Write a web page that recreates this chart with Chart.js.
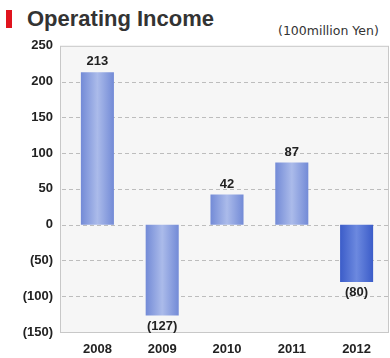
<!DOCTYPE html>
<html>
<head>
<meta charset="utf-8">
<script src="https://cdn.jsdelivr.net/npm/chart.js@4.4.0/dist/chart.umd.min.js"></script>
<style>
    html, body { margin: 0; padding: 0; background: #fff; }
    #wrap { position: relative; width: 390px; height: 358px; overflow: hidden; font-family: Arial, "Liberation Sans", sans-serif; }
    #mark { position: absolute; left: 6px; top: 10px; width: 6px; height: 18px; background: #e0141e; }
    #title { position: absolute; left: 27px; top: 6px; font-size: 22px; font-weight: bold; color: #333; white-space: nowrap; }
    #unit { position: absolute; left: 278px; top: 23px; font-size: 12.5px; font-family: "DejaVu Sans", sans-serif; color: #333; white-space: nowrap; }
    #chartBox { position: absolute; left: 0; top: 26px; width: 390px; height: 332px; }
</style>
</head>
<body>
<div id="wrap">
    <div id="mark"></div>
    <div id="title">Operating Income</div>
    <div id="unit">(100million Yen)</div>
    <div id="chartBox"><canvas id="incomeChart"></canvas></div>
</div>
<script>
// Ingresos operativos por año (100 millones de yenes)
const years = ['2008', '2009', '2010', '2011', '2012'];
const income = [213, -127, 42, 87, -80];
const yTicks = [250, 200, 150, 100, 50, 0, -50, -100, -150];
const gridValues = [200, 150, 100, 50, 0, -50, -100];

const FONT = 'Arial, "Liberation Sans", sans-serif';

function fmt(v) {
    return v < 0 ? '(' + Math.abs(v) + ')' : String(v);
}

// Fondo, líneas de guía discontinuas y marco del área
const frame = {
    id: 'frame',
    beforeDatasetsDraw(chart) {
        const { ctx, chartArea: a, scales } = chart;
        const left = a.left - 5;
        ctx.save();
        ctx.fillStyle = '#f6f6f6';
        ctx.fillRect(left, a.top, a.right - left, a.bottom - a.top);
        ctx.strokeStyle = '#bdbdbd';
        ctx.lineWidth = 1;
        ctx.setLineDash([4, 3]);
        gridValues.forEach(v => {
            const y = Math.round(scales.y.getPixelForValue(v)) + 0.5;
            ctx.beginPath();
            ctx.moveTo(left + 2, y);
            ctx.lineTo(a.right, y);
            ctx.stroke();
        });
        ctx.restore();
    },
    afterDatasetsDraw(chart) {
        const { ctx, chartArea: a } = chart;
        ctx.save();
        ctx.strokeStyle = '#c8c8c8';
        ctx.lineWidth = 1;
        ctx.strokeRect(a.left - 4.5, a.top + 0.5, a.right - a.left + 4, a.bottom - a.top);
        ctx.restore();
    }
};

// Etiquetas de valor sobre / debajo de cada barra
const valueLabels = {
    id: 'valueLabels',
    afterDatasetsDraw(chart) {
        const { ctx } = chart;
        const meta = chart.getDatasetMeta(0);
        ctx.save();
        ctx.font = 'bold 13px ' + FONT;
        ctx.fillStyle = '#222';
        ctx.textAlign = 'center';
        meta.data.forEach((bar, i) => {
            const v = income[i];
            if (v >= 0) {
                ctx.textBaseline = 'bottom';
                ctx.fillText(fmt(v), bar.x, bar.y - 4);
            } else {
                ctx.textBaseline = 'top';
                ctx.fillText(fmt(v), bar.x, bar.y + 4);
            }
        });
        ctx.restore();
    }
};

function barFill(c) {
    const chart = c.chart;
    const last = c.dataIndex === 4;
    const edge = last ? '#3a5bc8' : '#7189d6';
    const mid = last ? '#6c89df' : '#abbbea';
    if (!chart.chartArea || !chart.scales.x) return edge;
    const x = chart.scales.x.getPixelForValue(c.dataIndex);
    const half = 17;
    const g = chart.ctx.createLinearGradient(x - half, 0, x + half, 0);
    g.addColorStop(0, edge);
    g.addColorStop(0.5, mid);
    g.addColorStop(1, edge);
    return g;
}

new Chart(document.getElementById('incomeChart'), {
    type: 'bar',
    data: {
        labels: years,
        datasets: [{
            data: income,
            backgroundColor: barFill,
            borderWidth: 0,
            barPercentage: 0.51,
            categoryPercentage: 1
        }]
    },
    options: {
        responsive: true,
        maintainAspectRatio: false,
        animation: false,
        layout: { padding: { left: 0, right: 1, top: 2, bottom: 0 } },
        plugins: {
            legend: { display: false },
            tooltip: { enabled: false }
        },
        scales: {
            x: {
                grid: { display: false, drawTicks: false },
                border: { display: false },
                afterFit(axis) { axis.height = 26; },
                ticks: {
                    color: '#222',
                    padding: 10,
                    font: { size: 13, weight: 'bold', family: FONT }
                }
            },
            y: {
                min: -150,
                max: 250,
                afterBuildTicks(axis) {
                    axis.ticks = yTicks.map(v => ({ value: v }));
                },
                afterFit(axis) { axis.width = 65; },
                grid: { display: false, drawTicks: false },
                border: { display: false },
                ticks: {
                    color: '#222',
                    padding: 12,
                    callback: v => fmt(v),
                    font: { size: 13, weight: 'bold', family: FONT }
                }
            }
        }
    },
    plugins: [frame, valueLabels]
});
</script>
</body>
</html>
